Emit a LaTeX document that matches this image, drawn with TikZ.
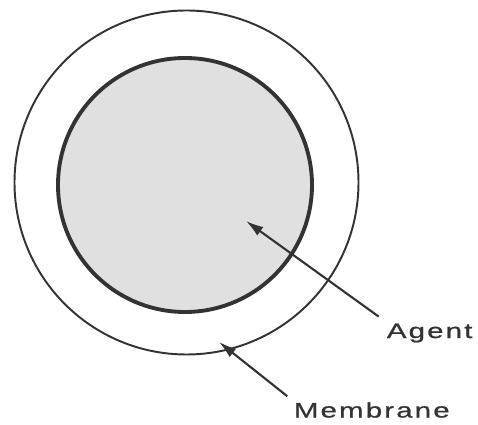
\documentclass[tikz,border=0pt]{standalone}
\usepackage{fontspec}
\newfontfamily\labelfont[FakeStretch=1.4,LetterSpace=10,FakeBold=0.8]{Liberation Sans}
\usetikzlibrary{arrows.meta}
\definecolor{ink}{HTML}{333333}
\tikzset{
  pointer/.style={draw=ink,line width=1.2pt,-{Latex[length=10pt,width=6pt]}},
  tag/.style={font=\labelfont\fontsize{12}{14}\selectfont,text=ink,inner sep=2pt}
}
\begin{document}
\begin{tikzpicture}[x=0.02cm,y=-0.02cm]
  \useasboundingbox (0,0) rectangle (478,425);
  \draw[ink,line width=1.1pt] (186.5,182.5) circle[radius=172];
  \draw[ink,line width=2.2pt,fill=black!12] (185,185) circle[radius=127];
  \coordinate (agenttip) at (246,221);
  \coordinate (membranetip) at (219,342);
  \node[tag,anchor=west] (agent) at (383,333) {Agent};
  \node[tag,anchor=west] (membrane) at (290,410) {Membrane};
  \draw[pointer,shorten <=3pt] (agent.north west) -- (agenttip);
  \draw[pointer,shorten <=2pt] (membrane.north west) -- (membranetip);
\end{tikzpicture}
\end{document}
